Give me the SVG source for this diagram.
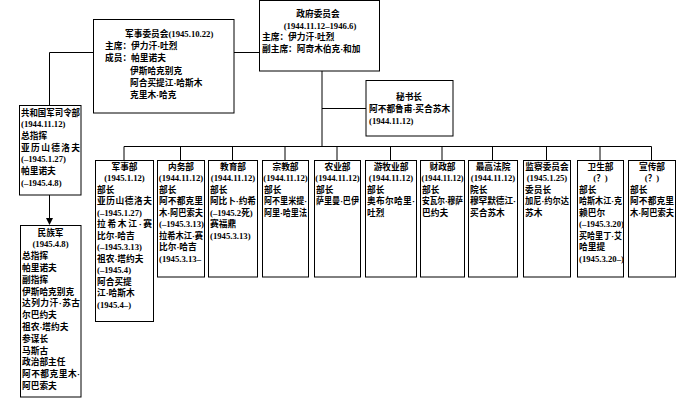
<svg xmlns="http://www.w3.org/2000/svg" width="690" height="401" viewBox="0 0 690 401">
<style>
.b{fill:#fff;stroke:#000;stroke-width:1}
text{font-family:"Liberation Serif","Noto Sans CJK SC",serif;font-size:8.7px;font-weight:bold;fill:#000}
.m{text-anchor:middle}
.ln{fill:none;stroke:#000;stroke-width:1}
</style>
<rect width="690" height="401" fill="#fff"/>
<g id="connectors">
<path class="ln" d="M234 52.5 H259"/>
<path class="ln" d="M93.5 52.5 H49.5 V105"/>
<path class="ln" d="M322 71 V146.5"/>
<path class="ln" d="M322 108.5 H366"/>
<path class="ln" d="M124 146.5 H651.5"/>
<path class="ln" d="M124 146.5 V160 M180.5 146.5 V160 M232.5 146.5 V160 M285 146.5 V160 M337 146.5 V160 M390.5 146.5 V160 M442 146.5 V160 M492.5 146.5 V160 M546.5 146.5 V160 M600 146.5 V160 M651.5 146.5 V160"/>
<path class="ln" d="M49.5 195 V219"/>
<path d="M46 218 L53 218 L49.5 225 Z" fill="#000"/>
</g>
<g id="gov">
<rect class="b" x="259.5" y="0.5" width="120" height="70.5"/>
<text class="m" x="318" y="17">政府委员会</text>
<text class="m" x="320" y="28.5">(1944.11.12–1946.6)</text>
<text x="262" y="40">主席：伊力汗·吐烈</text>
<text x="262" y="52">副主席：阿奇木伯克·和加</text>
</g>
<g id="mil-committee">
<rect class="b" x="93.5" y="19.5" width="140.5" height="93.5"/>
<text x="125" y="37">军事委员会(1945.10.22)</text>
<text x="105" y="49.2">主席：伊力汗·吐烈</text>
<text x="105" y="61.4">成员：帕里诺夫</text>
<text x="130" y="73.6">伊斯哈克别克</text>
<text x="130" y="85.8">阿合买提江·哈斯木</text>
<text x="130" y="98">克里木·哈克</text>
</g>
<g id="secretary">
<rect class="b" x="366" y="80.5" width="87" height="55.5"/>
<text class="m" x="409" y="99.5">秘书长</text>
<text x="369" y="111.8">阿不都鲁甫·买合苏木</text>
<text x="369" y="123.5">(1944.11.12)</text>
</g>
<g id="republic-army-hq">
<rect class="b" x="19.5" y="105.5" width="61.5" height="89.5"/>
<text x="21" y="115.5" textLength="59" lengthAdjust="spacingAndGlyphs">共和国军司令部</text>
<text x="21" y="127.2">(1944.11.12)</text>
<text x="21" y="138.9">总指挥</text>
<text x="21" y="150.6" textLength="59" lengthAdjust="spacing">亚历山德洛夫</text>
<text x="21" y="162.3">(–1945.1.27)</text>
<text x="21" y="174">帕里诺夫</text>
<text x="21" y="185.7">(–1945.4.8)</text>
</g>
<g id="national-army">
<rect class="b" x="20.5" y="225.5" width="60.5" height="171.5"/>
<text class="m" x="50.5" y="235.5">民族军</text>
<text class="m" x="50.5" y="247.3">(1945.4.8)</text>
<text x="22" y="259.1">总指挥</text>
<text x="22" y="270.9">帕里诺夫</text>
<text x="22" y="282.7">副指挥</text>
<text x="22" y="294.5">伊斯哈克别克</text>
<text x="22" y="306.3" textLength="58" lengthAdjust="spacing">达列力汗·苏古</text>
<text x="22" y="318.1">尔巴约夫</text>
<text x="22" y="329.9">祖农·塔约夫</text>
<text x="22" y="341.7">参谋长</text>
<text x="22" y="353.5">马斯古</text>
<text x="22" y="365.3">政治部主任</text>
<text x="22" y="377.1" textLength="58" lengthAdjust="spacing">阿不都克里木·</text>
<text x="22" y="388.9">阿巴索夫</text>
</g>
<g id="dept-military">
<rect class="b" x="95.5" y="160.5" width="58" height="161"/>
<text class="m" x="124.5" y="169.5">军事部</text>
<text class="m" x="124.5" y="181">(1945.1.12)</text>
<text x="97" y="192.5">部长</text>
<text x="97" y="204" textLength="55" lengthAdjust="spacing">亚历山德洛夫</text>
<text x="97" y="215.5">(–1945.1.27)</text>
<text x="97" y="227" textLength="55" lengthAdjust="spacing">拉希木江·赛</text>
<text x="97" y="238.5">比尔·哈吉</text>
<text x="97" y="250">(–1945.3.13)</text>
<text x="97" y="261.5">祖农·塔约夫</text>
<text x="97" y="273">(–1945.4)</text>
<text x="97" y="284.5">阿合买提</text>
<text x="97" y="296">江·哈斯木</text>
<text x="97" y="307.5">(1945.4–)</text>
</g>
<g id="dept-interior">
<rect class="b" x="157.5" y="160.5" width="47" height="116.5"/>
<text class="m" x="181" y="169.5">内务部</text>
<text class="m" x="181" y="181">(1944.11.12)</text>
<text x="159" y="192.5">部长</text>
<text x="159" y="204" textLength="44" lengthAdjust="spacing">阿不都克里</text>
<text x="159" y="215.5" textLength="44" lengthAdjust="spacingAndGlyphs">木·阿巴索夫</text>
<text x="159" y="227">(–1945.3.13)</text>
<text x="159" y="238.5" textLength="44" lengthAdjust="spacingAndGlyphs">拉希木江·赛</text>
<text x="159" y="250">比尔·哈吉</text>
<text x="159" y="261.5">(1945.3.13–</text>
</g>
<g id="dept-education">
<rect class="b" x="208.5" y="160.5" width="49" height="116.5"/>
<text class="m" x="233" y="169.5">教育部</text>
<text class="m" x="233" y="181">(1944.11.12)</text>
<text x="210" y="192.5">部长</text>
<text x="210" y="204" textLength="46" lengthAdjust="spacing">阿比卜·约希</text>
<text x="210" y="215.5">(–1945.2死)</text>
<text x="210" y="227">赛福鼎</text>
<text x="210" y="238.5">(1945.3.13)</text>
</g>
<g id="dept-religion">
<rect class="b" x="262.5" y="160.5" width="46" height="116.5"/>
<text class="m" x="285.5" y="169.5">宗教部</text>
<text class="m" x="285.5" y="181">(1944.11.12)</text>
<text x="264" y="192.5">部长</text>
<text x="264" y="204" textLength="43" lengthAdjust="spacingAndGlyphs">阿不里米提·</text>
<text x="264" y="215.5" textLength="43" lengthAdjust="spacingAndGlyphs">阿里·哈里法</text>
</g>
<g id="dept-agriculture">
<rect class="b" x="314.5" y="160.5" width="46" height="116.5"/>
<text class="m" x="337.5" y="169.5">农业部</text>
<text class="m" x="337.5" y="181">(1944.11.12)</text>
<text x="316" y="192.5">部长</text>
<text x="316" y="204" textLength="43" lengthAdjust="spacingAndGlyphs">萨里曼·巴伊</text>
</g>
<g id="dept-pastoral">
<rect class="b" x="365.5" y="160.5" width="51" height="116.5"/>
<text class="m" x="391" y="169.5">游牧业部</text>
<text class="m" x="391" y="181">(1944.11.12)</text>
<text x="367" y="192.5">部长</text>
<text x="367" y="204" textLength="48" lengthAdjust="spacing">奥布尔哈里·</text>
<text x="367" y="215.5">吐烈</text>
</g>
<g id="dept-finance">
<rect class="b" x="420.5" y="160.5" width="44" height="116.5"/>
<text class="m" x="442.5" y="169.5">财政部</text>
<text class="m" x="442.5" y="181" textLength="42" lengthAdjust="spacingAndGlyphs">(1944.11.12)</text>
<text x="422" y="192.5">部长</text>
<text x="422" y="204" textLength="41" lengthAdjust="spacingAndGlyphs">安瓦尔·穆萨</text>
<text x="422" y="215.5">巴约夫</text>
</g>
<g id="supreme-court">
<rect class="b" x="468.5" y="160.5" width="49" height="116.5"/>
<text class="m" x="493" y="169.5">最高法院</text>
<text class="m" x="493" y="181">(1944.11.12)</text>
<text x="470" y="192.5">院长</text>
<text x="470" y="204" textLength="46" lengthAdjust="spacing">穆罕默德江·</text>
<text x="470" y="215.5">买合苏木</text>
</g>
<g id="supervisory-committee">
<rect class="b" x="523.5" y="160.5" width="47" height="116.5"/>
<text class="m" x="547" y="169.5">监察委员会</text>
<text class="m" x="547" y="181">(1945.1.25)</text>
<text x="525" y="192.5">委员长</text>
<text x="525" y="204" textLength="44" lengthAdjust="spacingAndGlyphs">加尼·约尔达</text>
<text x="525" y="215.5">苏木</text>
</g>
<g id="dept-health">
<rect class="b" x="577.5" y="160.5" width="46" height="116.5"/>
<text class="m" x="600.5" y="169.5">卫生部</text>
<text class="m" x="600.5" y="181">(？)</text>
<text x="579" y="192.5">部长</text>
<text x="579" y="204" textLength="43" lengthAdjust="spacingAndGlyphs">哈斯木江·克</text>
<text x="579" y="215.5">赖巴尔</text>
<text x="579" y="227">(–1945.3.20)</text>
<text x="579" y="238.5" textLength="43" lengthAdjust="spacingAndGlyphs">买哈里丁·艾</text>
<text x="579" y="250">哈里提</text>
<text x="579" y="261.5">(1945.3.20–)</text>
</g>
<g id="dept-propaganda">
<rect class="b" x="628.5" y="160.5" width="47" height="116.5"/>
<text class="m" x="652" y="169.5">宣传部</text>
<text class="m" x="652" y="181">(？)</text>
<text x="630" y="192.5">部长</text>
<text x="630" y="204" textLength="44" lengthAdjust="spacing">阿不都克里</text>
<text x="630" y="215.5" textLength="44" lengthAdjust="spacingAndGlyphs">木·阿巴索夫</text>
</g>
</svg>
